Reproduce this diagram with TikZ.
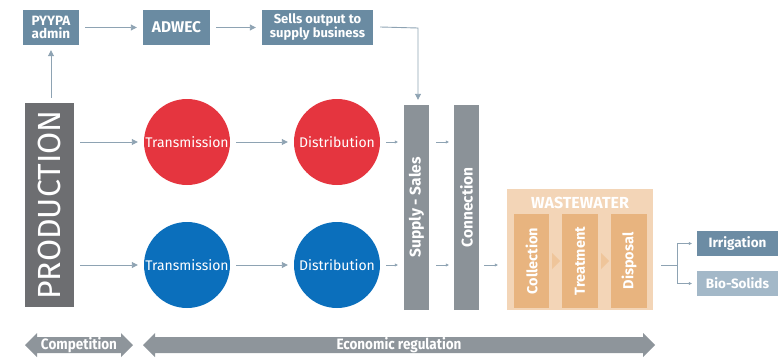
\documentclass[tikz,border=0pt]{standalone}
\usepackage{fontspec}
\setmainfont{Fira Sans}
\newfontfamily\condfont[FakeStretch=0.9]{Fira Sans}
\usetikzlibrary{arrows.meta,positioning}
\definecolor{topbox}{HTML}{6A8BA2}
\definecolor{redc}{HTML}{E5353F}
\definecolor{bluec}{HTML}{0B6FBC}
\definecolor{barg}{HTML}{8B9298}
\definecolor{prodg}{HTML}{6D6E71}
\definecolor{arrg}{HTML}{8EA3B3}
\definecolor{wwbg}{HTML}{F3D5B7}
\definecolor{wwin}{HTML}{E8B47F}
\definecolor{wwchev}{HTML}{EFC59A}
\definecolor{irr}{HTML}{6C8CA4}
\definecolor{bio}{HTML}{A3B8C8}
\definecolor{botg}{HTML}{8E959B}
\begin{document}
\begin{tikzpicture}[x=1pt,y=1pt,
  topnode/.style={fill=topbox,text=white,font=\bfseries\fontsize{13}{14}\selectfont,align=center,inner sep=0pt,minimum height=35pt},
  circ/.style={circle,inner sep=0pt,minimum size=86pt,text=white,font=\fontsize{14}{16}\selectfont},
  bar/.style={fill=barg,inner sep=0pt,minimum width=25pt,minimum height=205pt},
  barlabel/.style={rotate=90,text=white,font=\bfseries\fontsize{15.5}{17}\selectfont},
  inbox/.style={fill=wwin,inner sep=0pt,minimum width=36pt,minimum height=94pt},
  inlabel/.style={rotate=90,text=white,font=\bfseries\fontsize{14.5}{16}\selectfont},
  sidebox/.style={inner sep=0pt,minimum width=81pt,minimum height=25pt,text=white,font=\bfseries\fontsize{13.5}{15}\selectfont},
  conn/.style={draw=arrg,line width=0.9pt,-{Triangle[length=6pt,width=6pt]}},
  sconn/.style={draw=arrg,line width=0.6pt,-{Triangle[length=3pt,width=3pt]}},
  botarrow/.style={fill=botg},
  botlabel/.style={text=white,font=\condfont\bfseries\fontsize{15}{16}\selectfont,inner sep=0pt}
]
\useasboundingbox (0,0) rectangle (778,357);
% top boxes
\node[topnode,minimum width=56pt,font=\bfseries\fontsize{13.5}{13.5}\selectfont] (pyypa) at (51,329.5) {PYYPA\\admin};
\node[topnode,minimum width=67pt,font=\bfseries\fontsize{15.5}{16}\selectfont] (adwec) at (176.5,329.5) {ADWEC};
\node[topnode,minimum width=111pt] (sells) at (317.5,329.5) {Sells output to\\supply business};
% production
\node[fill=prodg,inner sep=0pt,minimum width=49pt,minimum height=204pt] (prod) at (49.5,152) {};
\node[rotate=90,text=white,font=\fontsize{32}{33}\selectfont] (prodlabel) at (prod.center) {PRODUCTION};
% circles
\node[circ,fill=redc] (rt) at (187,215) {Transmission};
\node[circ,fill=redc] (rd) at (337,215) {Distribution};
\node[circ,fill=bluec] (bt) at (187,92) {Transmission};
\node[circ,fill=bluec] (bd) at (337,92) {Distribution};
% bars
\node[bar] (supply) at (416.5,149.5) {};
\node[barlabel] (supplylabel) at (supply.center) {Supply - Sales};
\node[bar] (connb) at (466.5,149.5) {};
\node[barlabel] (connlabel) at (connb.center) {Connection};
% wastewater
\node[fill=wwbg,inner sep=0pt,minimum width=146pt,minimum height=121pt] (ww) at (580,107.5) {};
\node[text=white,font=\bfseries\fontsize{16}{17}\selectfont,inner sep=0pt] (wwtitle) at (580,154) {WASTEWATER};
\node[inbox,minimum width=35pt] (coll) at (531.5,96) {};
\node[inbox] (treat) at (580,96) {};
\node[inbox] (disp) at (629,96) {};
\fill[wwchev] (coll.east) ++(3,8) -- ++(8,-8) -- ++(-8,-8) -- cycle;
\fill[wwchev] (treat.east) ++(3,8) -- ++(8,-8) -- ++(-8,-8) -- cycle;
\node[inlabel] (colllabel) at (coll.center) {Collection};
\node[inlabel] (treatlabel) at (treat.center) {Treatment};
\node[inlabel] (displabel) at (disp.center) {Disposal};
% outputs
\node[sidebox,fill=irr] (irrig) at (737.5,113.5) {Irrigation};
\node[sidebox,fill=bio] (bios) at (737.5,73.5) {Bio-Solids};
% connectors
\draw[conn,shorten <=5pt,shorten >=5pt] (prod.north -| pyypa.south) -- (pyypa.south);
\draw[conn,shorten <=6pt,shorten >=6pt] (pyypa.east) -- (adwec.west);
\draw[conn,shorten <=6pt,shorten >=6pt] (adwec.east) -- (sells.west);
\coordinate (sellsc) at (418,329);
\draw[conn,shorten >=5pt] ([xshift=7pt,yshift=0.5pt]sells.east) -- (sellsc) -- (sellsc |- supply.north);
\draw[conn,shorten <=6pt,shorten >=6pt] (prod.east |- rt.west) -- (rt.west);
\draw[conn,shorten <=6pt,shorten >=6pt] (rt.east) -- (rd.west);
\draw[conn,shorten <=6pt,shorten >=6pt] (prod.east |- bt.west) -- (bt.west);
\draw[conn,shorten <=6pt,shorten >=6pt] (bt.east) -- (bd.west);
\draw[sconn,shorten <=6pt,shorten >=6pt] (rd.east) -- (supply.west |- rd.east);
\draw[sconn,shorten <=6pt,shorten >=6pt] (bd.east) -- (supply.west |- bd.east);
\draw[sconn,shorten <=7pt,shorten >=5pt] (supply.east |- rd.east) -- (connb.west |- rd.east);
\draw[sconn,shorten <=7pt,shorten >=5pt] (supply.east |- bd.east) -- (connb.west |- bd.east);
\draw[sconn,shorten <=5pt,shorten >=9pt] (connb.east |- bd.east) -- (ww.west |- bd.east);
\coordinate (split) at (677,92);
\draw[draw=arrg,line width=0.6pt] ([xshift=8pt]ww.east |- bd.east) -- (split);
\draw[sconn,shorten >=5pt] (split) |- (irrig.west);
\draw[sconn,shorten >=5pt] (split) |- (bios.west);
% bottom arrows
\fill[botarrow] (25,12) -- (37,24) -- (37,20) -- (121,20) -- (121,24) -- (133,12) -- (121,0) -- (121,4) -- (37,4) -- (37,0) -- cycle;
\node[botlabel] (comp) at (79,12) {Competition};
\fill[botarrow] (143,12) -- (155,24) -- (155,20) -- (643,20) -- (643,24) -- (655,12) -- (643,0) -- (643,4) -- (155,4) -- (155,0) -- cycle;
\node[botlabel] (econ) at (399,12) {Economic regulation};
\end{tikzpicture}
\end{document}
